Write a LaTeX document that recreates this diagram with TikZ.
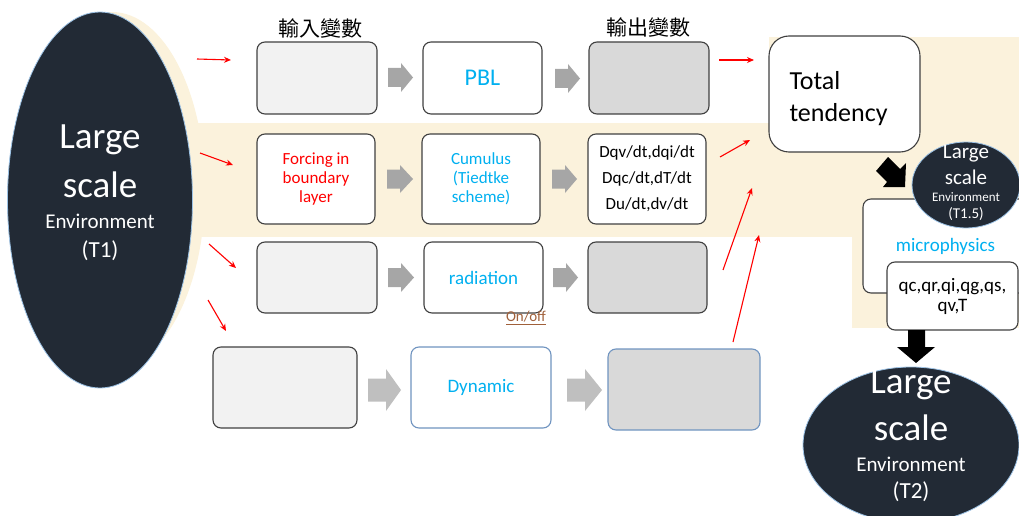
\documentclass[tikz,border=0pt]{standalone}
\usepackage{fontspec}
\setmainfont{Carlito}
\newfontfamily\cjk{Noto Sans CJK TC}
\usetikzlibrary{arrows.meta,shapes.geometric}
\definecolor{beige}{HTML}{FBF2DC}
\definecolor{darkell}{HTML}{222A35}
\definecolor{ellline}{HTML}{9DC3E6}
\definecolor{cyantext}{HTML}{00B0F0}
\definecolor{boxline}{HTML}{404040}
\definecolor{blueline}{HTML}{7094C0}
\definecolor{lightfill}{HTML}{F2F2F2}
\definecolor{darkfill}{HTML}{D9D9D9}
\definecolor{garrowA}{HTML}{A6A6A6}
\definecolor{garrowB}{HTML}{BFBFBF}
\definecolor{onoff}{HTML}{A0603A}
\newcommand\fsz[2]{\fontsize{#1pt}{#2pt}\selectfont}
\newcommand\garrow[7]{% color, x1, x2, yc, halfhead, halfshaft, shaftend
  \fill[#1] (#2,#4-#6) -- (#7,#4-#6) -- (#7,#4-#5) -- (#3,#4) -- (#7,#4+#5) -- (#7,#4+#6) -- (#2,#4+#6) -- cycle;}
\begin{document}
\begin{tikzpicture}[x=1pt,y=-1pt,
  box/.style={draw=boxline, line width=1.1pt, rounded corners=8pt, inner sep=0pt, align=center},
  bbox/.style={box, draw=blueline},
  ell/.style={ellipse, fill=darkell, draw=ellline, line width=0.8pt, inner sep=0pt},
  wtxt/.style={text=white, inner sep=0pt, anchor=base},
  redarr/.style={draw=red, line width=1.1pt, -{Stealth[length=7pt,width=6pt]}},
  small17/.style={font=\fsz{17}{19}},
]
\useasboundingbox (0,0) rectangle (1019,516);
\clip (0,0) rectangle (1019,516);

% beige background areas
\fill[beige] (150,123) rectangle (770,237);
\fill[beige] (769,37) rectangle (1019,237);
\fill[beige] (852,37) rectangle (1019,328);

% T1 ellipse with beige shadow
\node[ellipse, fill=beige, minimum width=186pt, minimum height=356pt, inner sep=0pt] (t1s) at (112,190) {};
\node[ell, minimum width=185pt, minimum height=376pt] (t1) at (100,200) {};
\node[wtxt, font=\fsz{37}{40}] (t1a) at (100,148) {Large};
\node[wtxt, font=\fsz{37}{40}] (t1b) at (100,197) {scale};
\node[wtxt, font=\fsz{21}{24}] (t1c) at (100,228) {Environment};
\node[wtxt, font=\fsz{23}{26}] (t1d) at (100,257) {(T1)};

% headings
\node[font=\cjk\fsz{21}{24}, inner sep=0pt] (hin) at (320,29) {輸入變數};
\node[font=\cjk\fsz{21}{24}, inner sep=0pt] (hout) at (648,28) {輸出變數};

% row 1
\node[box, fill=lightfill, minimum width=120pt, minimum height=72pt] (in1) at (317,78) {};
\node[box, fill=white, minimum width=119pt, minimum height=72pt, text=cyantext, font=\fsz{24}{26}] (pbl) at (482.5,78) {PBL};
\node[box, fill=darkfill, minimum width=120pt, minimum height=72pt] (out1) at (649,78) {};
\garrow{garrowA}{388}{413}{77.5}{14.5}{9.5}{401}
\garrow{garrowA}{555}{580}{78.5}{14.5}{9.5}{568}

% row 2
\node[box, fill=white, minimum width=118pt, minimum height=90pt, text=red, small17] (in2) at (316,179) {Forcing in\\boundary\\layer};
\node[box, fill=white, minimum width=118pt, minimum height=90pt, text=cyantext, small17] (cu) at (481,179) {Cumulus\\(Tiedtke\\scheme)};
\node[box, fill=white, minimum width=118pt, minimum height=90pt, font=\fsz{17}{26}] (out2) at (647,179) {Dqv/dt,dqi/dt\\Dqc/dt,dT/dt\\Du/dt,dv/dt};
\garrow{garrowA}{387}{413}{179}{14}{9.5}{400}
\garrow{garrowA}{552}{577}{179}{14}{9.5}{565}

% row 3
\node[box, fill=lightfill, minimum width=120pt, minimum height=71pt] (in3) at (317,277.5) {};
\node[box, fill=white, minimum width=119pt, minimum height=71pt, text=cyantext, font=\fsz{19}{22}] (rad) at (483.5,277.5) {radiation};
\node[box, fill=darkfill, minimum width=119pt, minimum height=71pt] (out3) at (647.5,277.5) {};
\garrow{garrowA}{388}{414}{277.5}{14.5}{9.5}{401}
\garrow{garrowA}{553}{578}{277.5}{14.5}{9.5}{566}
\node[text=onoff, font=\fsz{15}{17}, inner sep=0pt] (onoff) at (526,318) {\underline{On/off}};

% row 4
\node[box, fill=lightfill, minimum width=144pt, minimum height=81pt] (in4) at (285,387.5) {};
\node[bbox, fill=white, minimum width=140pt, minimum height=81pt, text=cyantext, font=\fsz{19}{22}] (dyn) at (481,387.5) {Dynamic};
\node[bbox, fill=darkfill, minimum width=152pt, minimum height=81pt] (out4) at (684,389.5) {};
\garrow{garrowB}{368}{401}{390}{21}{11.5}{386}
\garrow{garrowB}{567}{602}{390}{21}{11.5}{585}

% total tendency
\node[box, fill=white, rounded corners=20pt, minimum width=151pt, minimum height=116pt,
      text width=110pt, align=left, font=\fsz{26}{32}] (total) at (844.5,94) {\rule{0pt}{28pt}Total\\tendency};

% microphysics
\node[box, fill=white, minimum width=165pt, minimum height=94pt, text=cyantext, font=\fsz{19}{22}] (micro) at (945.5,246) {microphysics};
\node[ell, minimum width=108pt, minimum height=86pt] (t15) at (966,185) {};
\node[wtxt, font=\fsz{21}{24}] (t15a) at (966,158) {Large};
\node[wtxt, font=\fsz{21}{24}] (t15b) at (966,184) {scale};
\node[wtxt, font=\fsz{13}{15}] (t15c) at (966,201) {Environment};
\node[wtxt, font=\fsz{15}{17}] (t15d) at (966,218) {(T1.5)};
\node[box, fill=white, minimum width=131pt, minimum height=68pt, font=\fsz{19}{20}] (qc) at (952.5,296) {qc,qr,qi,qg,qs,\\qv,T};

% black arrows
\fill[black] (876,171) -- (888,157) -- (900,169) -- (906,163) -- (905,187) -- (883,187) -- (887,182) -- cycle;
\fill[black] (908,330) -- (925,330) -- (925,347) -- (935,347) -- (916,363) -- (897,347) -- (908,347) -- cycle;

% T2 ellipse
\node[ell, minimum width=216pt, minimum height=156pt] (t2) at (911,445) {};
\node[wtxt, font=\fsz{37}{40}] (t2a) at (911,393) {Large};
\node[wtxt, font=\fsz{37}{40}] (t2b) at (911,440) {scale};
\node[wtxt, font=\fsz{21}{24}] (t2c) at (911,471) {Environment};
\node[wtxt, font=\fsz{23}{26}] (t2d) at (911,498) {(T2)};

% red arrows
\coordinate (a1s) at (197,59);  \coordinate (a1e) at (231,60);
\coordinate (a2s) at (200,153); \coordinate (a2e) at (233,165);
\coordinate (a3s) at (209,244); \coordinate (a3e) at (236,268);
\coordinate (a4s) at (208,300); \coordinate (a4e) at (226,331);
\coordinate (b1s) at (719,60);  \coordinate (b1e) at (754,60);
\coordinate (b2s) at (720,157); \coordinate (b2e) at (750,140);
\coordinate (b3s) at (723,270); \coordinate (b3e) at (752,188);
\coordinate (b4s) at (733,342); \coordinate (b4e) at (759,235);
\foreach \n in {a1,a2,a3,a4,b1,b2,b3,b4}{\draw[redarr] (\n s) -- (\n e);}
\end{tikzpicture}
\end{document}
